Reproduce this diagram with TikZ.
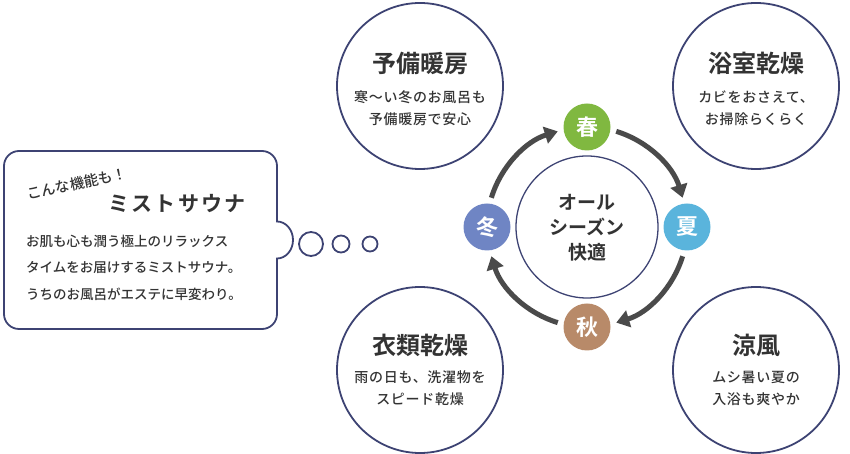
\documentclass[tikz,border=0pt]{standalone}
\usepackage{fontspec}
\setmainfont{Noto Sans CJK JP Medium}[BoldFont={Noto Sans CJK JP Bold}]
\usetikzlibrary{arrows.meta,calc}
\definecolor{navy}{HTML}{3D4373}
\definecolor{txt}{HTML}{333333}
\definecolor{arrgray}{HTML}{4A4A4A}
\definecolor{spr}{HTML}{80B840}
\definecolor{sum}{HTML}{5AB4DC}
\definecolor{aut}{HTML}{B88A69}
\definecolor{win}{HTML}{6F85C4}
\tikzset{
  bigc/.style={circle,draw=navy,line width=1.8pt,minimum size=166pt,inner sep=0pt},
  ttl/.style={text=txt,inner sep=0pt,font=\fontsize{24}{28}\selectfont\bfseries},
  sub/.style={text=txt,inner sep=0pt,align=center,font=\fontsize{14}{22}\selectfont\addfontfeature{LetterSpace=5}},
  season/.style={circle,minimum size=47pt,inner sep=0pt,text=white,font=\fontsize{22}{24}\selectfont\bfseries},
  arr/.style={draw=arrgray,line width=5pt,-{Triangle[length=13pt,width=17pt]}},
  bub/.style={draw=navy,line width=1.8pt,fill=white},
  body/.style={text=txt,anchor=west,inner sep=0pt,font=\fontsize{13.5}{16}\selectfont},
}
\begin{document}
\begin{tikzpicture}[x=1pt,y=1pt]
\useasboundingbox (0,0) rectangle (850,454);
% big circles
\node[bigc] (heat) at (420,368) {};
\node[bigc] (dry) at (756,368) {};
\node[bigc] (cloth) at (420,84) {};
\node[bigc] (cool) at (756,84) {};
\node[ttl] (heatT) at (420,391) {予備暖房};
\node[sub] (heatS) at (420,346) {寒〜い冬のお風呂も\\予備暖房で安心};
\node[ttl] (dryT) at (756,391) {浴室乾燥};
\node[sub] (dryS) at (756,346) {カビをおさえて、\\お掃除らくらく};
\node[ttl] (clothT) at (420,109) {衣類乾燥};
\node[sub] (clothS) at (420,66) {雨の日も、洗濯物を\\スピード乾燥};
\node[ttl] (coolT) at (756,109) {涼風};
\node[sub] (coolS) at (756,66) {ムシ暑い夏の\\入浴も爽やか};
% center
\node[circle,draw=navy,line width=1.3pt,minimum size=142pt,inner sep=0pt] (ctr) at (587,227) {};
\node[text=txt,inner sep=0pt,align=center,font=\fontsize{19}{25}\selectfont\bfseries] (ctrT) at (587,226) {オール\\シーズン\\快適};
\node[season,fill=spr] (spring) at (587,327) {春};
\node[season,fill=sum] (summer) at (687,227) {夏};
\node[season,fill=aut] (autumn) at (587,127) {秋};
\node[season,fill=win] (winter) at (487,227) {冬};
\coordinate (a1) at ($(ctr)+(73:100pt)$);
\coordinate (a2) at ($(ctr)+(-17:100pt)$);
\coordinate (a3) at ($(ctr)+(-107:100pt)$);
\coordinate (a4) at ($(ctr)+(163:100pt)$);
\draw[arr] (a1) arc[start angle=73,end angle=17,radius=100pt];
\draw[arr] (a2) arc[start angle=-17,end angle=-73,radius=100pt];
\draw[arr] (a3) arc[start angle=-107,end angle=-163,radius=100pt];
\draw[arr] (a4) arc[start angle=163,end angle=107,radius=100pt];
% bubble
\draw[bub] (19,303) -- (262,303) arc[start angle=90,end angle=0,radius=15pt]
  -- (277,232.5) arc[start angle=90,end angle=-90,x radius=16pt,y radius=18.5pt]
  -- (277,140) arc[start angle=0,end angle=-90,radius=15pt]
  -- (19,125) arc[start angle=270,end angle=180,radius=15pt]
  -- (4,288) arc[start angle=180,end angle=90,radius=15pt] -- cycle;
\node[circle,draw=navy,line width=1.8pt,minimum size=24pt,inner sep=0pt] (d1) at (311,210) {};
\node[circle,draw=navy,line width=1.8pt,minimum size=17pt,inner sep=0pt] (d2) at (341,210) {};
\node[circle,draw=navy,line width=1.8pt,minimum size=15pt,inner sep=0pt] (d3) at (370,210) {};
\node[text=txt,inner sep=0pt,rotate=12,font=\fontsize{14.5}{16}\selectfont] (bubA) at (77,270) {こんな機能も！};
\node[text=txt,inner sep=0pt,font=\fontsize{21}{24}\selectfont\bfseries\addfontfeature{LetterSpace=10}] (bubT) at (177,250) {ミストサウナ};
\node[body] (b1) at (26,213) {お肌も心も潤う極上のリラックス};
\node[body] (b2) at (26,186) {タイムをお届けするミストサウナ。};
\node[body] (b3) at (26,160) {うちのお風呂がエステに早変わり。};
\end{tikzpicture}
\end{document}
